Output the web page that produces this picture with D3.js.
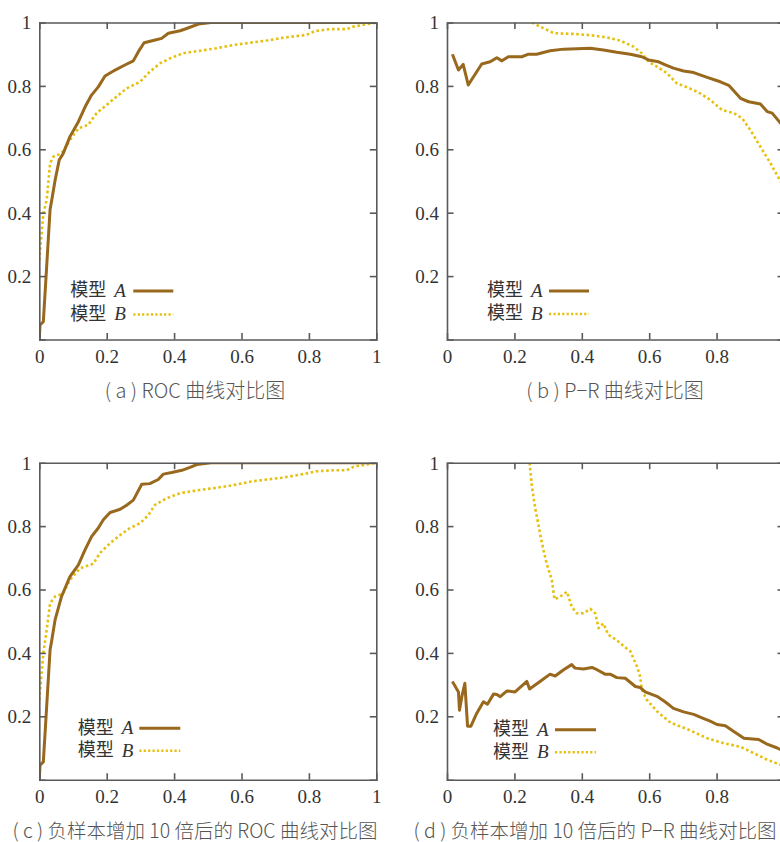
<!DOCTYPE html>
<html>
<head>
<meta charset="utf-8">
<script src="https://cdn.jsdelivr.net/npm/d3@7"></script>
<style>
  html, body { margin: 0; padding: 0; background: #fff; }
  svg { display: block; }
  .serif { font-family: "Liberation Serif", "Times New Roman", serif; }
  .cjk { font-family: "Noto Sans CJK SC", sans-serif; }
</style>
</head>
<body>
<svg id="chart" width="780" height="842"></svg>
<script>
// ---- data: [x, y] points per curve ----
const tickValues = [0, 0.2, 0.4, 0.6, 0.8, 1];
const tickLabels = ["0", "0.2", "0.4", "0.6", "0.8", "1"];
const seriesNames = ["A", "B"];

// (a) ROC
const rocA = [[0,0],[0.002,0.046],[0.012,0.056],[0.032,0.41],[0.037,0.44],[0.047,0.503],[0.059,0.566],[0.071,0.587],
  [0.091,0.64],[0.116,0.687],[0.136,0.734],[0.155,0.771],[0.175,0.797],[0.195,0.831],[0.225,0.85],[0.254,0.866],
  [0.279,0.879],[0.294,0.908],[0.311,0.936],[0.338,0.943],[0.363,0.95],[0.383,0.966],[0.418,0.974],[0.437,0.981],
  [0.472,0.995],[0.51,1],[1,1]];
const rocB = [[0,0.25],[0.012,0.398],[0.022,0.44],[0.032,0.556],[0.042,0.577],[0.066,0.587],[0.091,0.629],[0.116,0.666],
  [0.145,0.677],[0.17,0.714],[0.2,0.74],[0.229,0.766],[0.259,0.792],[0.299,0.813],[0.328,0.845],[0.358,0.871],
  [0.388,0.887],[0.427,0.903],[0.477,0.911],[0.526,0.919],[0.576,0.929],[0.625,0.936],[0.675,0.943],[0.724,0.952],
  [0.793,0.961],[0.818,0.973],[0.863,0.979],[0.912,0.979],[0.932,0.987],[1,1]];

// (b) P-R
const prA = [[0.016,0.9],[0.034,0.85],[0.048,0.868],[0.063,0.803],[0.103,0.869],[0.128,0.876],[0.148,0.889],[0.163,0.879],
  [0.182,0.892],[0.222,0.892],[0.242,0.9],[0.266,0.9],[0.306,0.911],[0.346,0.916],[0.425,0.919],[0.464,0.913],
  [0.504,0.906],[0.544,0.9],[0.578,0.892],[0.598,0.882],[0.628,0.876],[0.648,0.866],[0.672,0.856],[0.702,0.847],
  [0.732,0.842],[0.772,0.827],[0.811,0.813],[0.836,0.802],[0.871,0.761],[0.895,0.75],[0.93,0.743],[0.95,0.719],
  [0.965,0.714],[0.99,0.682],[1,0.672]];
const prB = [[0.252,1],[0.286,0.982],[0.318,0.966],[0.375,0.964],[0.425,0.96],[0.474,0.953],[0.514,0.943],[0.553,0.924],
  [0.578,0.903],[0.598,0.876],[0.623,0.861],[0.653,0.84],[0.682,0.808],[0.712,0.796],[0.747,0.779],[0.781,0.756],
  [0.816,0.724],[0.851,0.714],[0.876,0.698],[0.9,0.661],[0.93,0.608],[0.96,0.556],[0.99,0.498],[1,0.48]];

// (c) ROC, 10x negatives
const rocA10 = [[0,0],[0.002,0.046],[0.012,0.056],[0.032,0.41],[0.037,0.44],[0.047,0.505],[0.066,0.578],[0.091,0.641],
  [0.116,0.678],[0.136,0.726],[0.155,0.767],[0.175,0.794],[0.19,0.82],[0.21,0.843],[0.24,0.853],[0.259,0.866],
  [0.279,0.882],[0.304,0.932],[0.328,0.934],[0.353,0.947],[0.368,0.964],[0.393,0.969],[0.423,0.976],[0.447,0.985],
  [0.467,0.994],[0.51,1],[1,1]];
const rocB10 = [[0,0.252],[0.012,0.4],[0.022,0.473],[0.032,0.557],[0.047,0.578],[0.071,0.588],[0.091,0.63],[0.121,0.667],
  [0.16,0.681],[0.18,0.715],[0.21,0.746],[0.24,0.772],[0.269,0.794],[0.299,0.809],[0.324,0.835],[0.343,0.867],
  [0.378,0.888],[0.418,0.904],[0.477,0.914],[0.526,0.921],[0.576,0.929],[0.625,0.94],[0.675,0.947],[0.724,0.953],
  [0.793,0.966],[0.823,0.973],[0.872,0.976],[0.912,0.976],[0.932,0.987],[1,1]];

// (d) P-R, 10x negatives
const prA10 = [[0.016,0.31],[0.034,0.277],[0.037,0.219],[0.044,0.262],[0.053,0.304],[0.061,0.169],[0.071,0.169],
  [0.088,0.209],[0.108,0.246],[0.12,0.238],[0.138,0.27],[0.148,0.269],[0.158,0.262],[0.178,0.28],[0.202,0.277],
  [0.237,0.31],[0.245,0.286],[0.276,0.31],[0.306,0.333],[0.321,0.327],[0.346,0.347],[0.37,0.363],[0.38,0.352],
  [0.405,0.349],[0.43,0.354],[0.445,0.347],[0.469,0.333],[0.484,0.333],[0.504,0.322],[0.529,0.32],[0.559,0.294],
  [0.573,0.291],[0.588,0.277],[0.623,0.263],[0.648,0.245],[0.672,0.225],[0.702,0.214],[0.732,0.206],[0.762,0.193],
  [0.781,0.185],[0.801,0.174],[0.826,0.17],[0.851,0.152],[0.881,0.131],[0.925,0.127],[0.95,0.112],[0.98,0.1],
  [0.99,0.095],[1,0.09]];
const prB10 = [[0.245,1],[0.252,0.924],[0.261,0.861],[0.276,0.777],[0.286,0.725],[0.296,0.681],[0.311,0.63],[0.319,0.569],
  [0.336,0.578],[0.356,0.593],[0.37,0.546],[0.385,0.525],[0.405,0.525],[0.425,0.539],[0.44,0.525],[0.45,0.478],
  [0.464,0.493],[0.479,0.457],[0.504,0.44],[0.534,0.413],[0.544,0.405],[0.564,0.357],[0.573,0.326],[0.578,0.284],
  [0.593,0.252],[0.623,0.216],[0.663,0.18],[0.712,0.16],[0.772,0.131],[0.821,0.115],[0.87,0.104],[0.91,0.084],
  [0.95,0.063],[0.99,0.047],[1,0.044]];

const titles = [
  "( a ) ROC 曲线对比图",
  "( b ) P−R 曲线对比图",
  "( c ) 负样本增加 10 倍后的 ROC 曲线对比图",
  "( d ) 负样本增加 10 倍后的 P−R 曲线对比图"
];

// ---- layout and styling ----
const W = 337, H = 317;
const colorA = "#98681c", colorB = "#e6c00e", axisColor = "#5a5a5a";
const panels = [
  { left: 39.3, top: 22.5, series: [rocA, rocB], title: titles[0], titleX: 195, titleY: 398, titleSize: 20,
    legend: { tx: 31, ax: 75, lx0: 94, lx1: 134, rows: [-49.5, -26] } },
  { left: 447, top: 22.5, series: [prA, prB], title: titles[1], titleX: 615, titleY: 398, titleSize: 20,
    legend: { tx: 40, ax: 84, lx0: 102, lx1: 142, rows: [-49.5, -26.5] } },
  { left: 39.3, top: 462.7, series: [rocA10, rocB10], title: titles[2], titleX: 195, titleY: 838, titleSize: 19.5,
    legend: { tx: 38.5, ax: 82.5, lx0: 100, lx1: 141, rows: [-52.5, -30] } },
  { left: 447, top: 462.7, series: [prA10, prB10], title: titles[3], titleX: 595, titleY: 838, titleSize: 19.5,
    legend: { tx: 46, ax: 90, lx0: 108, lx1: 149, rows: [-51, -28.5] } }
];

const svg = d3.select("#chart");

panels.forEach((p, i) => {
  const x = d3.scaleLinear().domain([0, 1]).range([0, W]);
  const y = d3.scaleLinear().domain([0, 1]).range([H, 0]);
  const g = svg.append("g").attr("transform", `translate(${p.left},${p.top})`);

  const clipId = "clip" + i;
  g.append("clipPath").attr("id", clipId)
    .append("rect").attr("x", 0).attr("y", 0).attr("width", W).attr("height", H);

  // curves
  const line = d3.line().x(d => x(d[0])).y(d => y(d[1]));
  const curves = g.append("g").attr("clip-path", `url(#${clipId})`);
  curves.append("path").datum(p.series[1])
    .attr("d", line).attr("fill", "none")
    .attr("stroke", colorB).attr("stroke-width", 2.6)
    .attr("stroke-dasharray", "2.6,2.6").attr("stroke-linejoin", "round");
  curves.append("path").datum(p.series[0])
    .attr("d", line).attr("fill", "none")
    .attr("stroke", colorA).attr("stroke-width", 3)
    .attr("stroke-linejoin", "round");

  // inward ticks on all four sides, labels only bottom/left
  const inner = tickValues.slice(1, -1);
  const tickLen = 6.5;
  const axB = d3.axisBottom(x).tickValues(tickValues).tickSize(-tickLen).tickPadding(10)
    .tickFormat((d, k) => tickLabels[k]);
  const axL = d3.axisLeft(y).tickValues(tickValues.slice(1)).tickSize(-tickLen).tickPadding(8)
    .tickFormat((d, k) => tickLabels[k + 1]);
  const axT = d3.axisTop(x).tickValues(inner).tickSize(-tickLen).tickFormat("");
  const axR = d3.axisRight(y).tickValues(inner).tickSize(-tickLen).tickFormat("");

  const gb = g.append("g").attr("transform", `translate(0,${H})`).call(axB);
  const gl = g.append("g").call(axL);
  const gt = g.append("g").call(axT);
  const gr = g.append("g").attr("transform", `translate(${W},0)`).call(axR);

  [gb, gl, gt, gr].forEach(a => {
    a.attr("font-family", null).attr("font-size", null);
    a.select(".domain").attr("stroke", axisColor).attr("stroke-width", 1.6);
    a.selectAll(".tick line").attr("stroke", axisColor).attr("stroke-width", 1.6);
    a.selectAll(".tick text").attr("fill", "#333").attr("class", "serif")
      .style("font-size", "19px");
  });
  gb.selectAll(".tick line").filter(d => d === 0 || d === 1).remove();
  gl.selectAll(".tick line").filter(d => d === 1).remove();
  gl.selectAll(".tick text").attr("dy", "0.34em");

  // legend
  const lg = g.append("g").attr("transform", `translate(0,${H})`);
  seriesNames.forEach((name, k) => {
    const ry = p.legend.rows[k];
    lg.append("text").attr("class", "cjk")
      .attr("x", p.legend.tx).attr("y", ry).attr("dy", "0.36em")
      .attr("fill", "#333").style("font-size", "18px").text("模型");
    lg.append("text").attr("class", "serif")
      .attr("x", p.legend.ax).attr("y", ry).attr("dy", "0.36em")
      .attr("fill", "#333").style("font-size", "19px").style("font-style", "italic")
      .text(name);
    lg.append("line")
      .attr("x1", p.legend.lx0).attr("x2", p.legend.lx1)
      .attr("y1", ry + 1).attr("y2", ry + 1)
      .attr("stroke", k === 0 ? colorA : colorB)
      .attr("stroke-width", k === 0 ? 3 : 2.4)
      .attr("stroke-dasharray", k === 0 ? null : "2.2,2.2");
  });

  // caption
  svg.append("text").attr("class", "cjk")
    .attr("x", p.titleX).attr("y", p.titleY)
    .attr("text-anchor", "middle")
    .attr("fill", "#555")
    .style("font-size", p.titleSize + "px").style("font-weight", "300")
    .text(p.title);
});
</script>
</body>
</html>
